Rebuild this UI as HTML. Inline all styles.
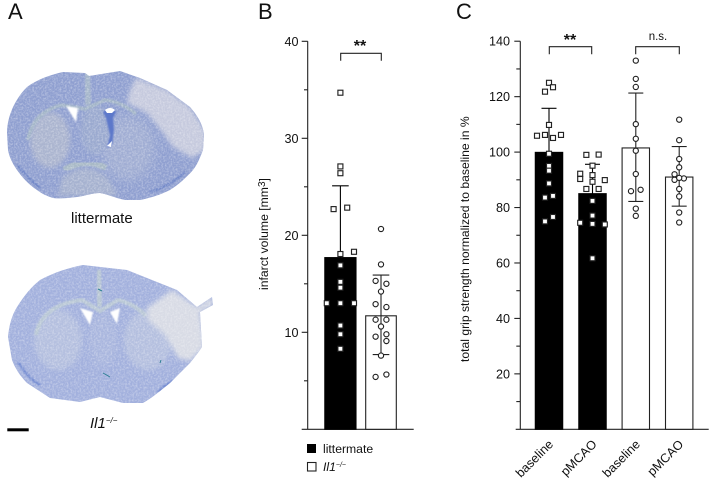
<!DOCTYPE html>
<html lang="en">
<head>
<meta charset="utf-8">
<title>Infarct volume and grip strength figure</title>
<style>
html,body{margin:0;padding:0;background:#fff;}
#figure{display:block;width:709px;height:478px;font-family:"Liberation Sans",Arial,sans-serif;}
</style>
</head>
<body>
<svg id="figure" xmlns="http://www.w3.org/2000/svg" width="709" height="478" viewBox="0 0 709 478">
<defs>
<filter id="soft" x="-15%" y="-15%" width="130%" height="130%"><feGaussianBlur stdDeviation="2.5"/></filter>
<filter id="softer" x="-30%" y="-30%" width="160%" height="160%"><feGaussianBlur stdDeviation="5"/></filter>
<filter id="edge" x="-5%" y="-5%" width="110%" height="110%"><feGaussianBlur stdDeviation="0.9"/></filter>
<filter id="noise" x="0" y="0" width="100%" height="100%">
<feTurbulence type="fractalNoise" baseFrequency="0.55" numOctaves="2" seed="4"/>
<feColorMatrix type="matrix" values="0 0 0 0 1  0 0 0 0 1  0 0 0 0 1  1.6 0 0 0 -0.62"/>
</filter>
<clipPath id="clip-a"><path d="M7,133 C7,118 14,100 27,87 C38,79 50,75 63,72 L85,73 L89,76 L120,71 L140,78 L167,90 L190,107 C198,116 203,125 204,135 L203,150 C200,158 197,165 193,170 C186,178 178,185 170,190 C160,195 150,198 140,200 L125,200 C115,198 107,194 100,193 C92,193 85,196 77,197 C68,198 60,199 53,198 C47,196 42,194 37,190 C28,184 22,177 17,170 C12,163 9,156 8,150Z"/></clipPath>
<clipPath id="clip-b"><path d="M8,337 C9,325 12,315 17,307 C24,296 31,287 40,280 C55,272 68,268 83,265 L127,270 L177,290 L197,307 L212,297 L213,305 L200,312 L202,347 C198,353 194,358 190,363 L170,383 C160,391 152,398 143,403 L123,403 L100,397 L80,402 L50,398 L27,383 C20,376 15,368 12,360Z"/></clipPath>
</defs>

<g>
<text x="8" y="19" font-size="22" fill="#111">A</text>
<g>
<g clip-path="url(#clip-a)">
<rect x="0" y="60" width="215" height="150" fill="#8f9fd0"/>
<ellipse cx="50" cy="140" rx="20" ry="28" fill="#aab4cf" filter="url(#soft)"/>
<ellipse cx="128" cy="148" rx="26" ry="32" fill="#a0add3" filter="url(#softer)"/>
<ellipse cx="95" cy="130" rx="14" ry="25" fill="#9aa9cf" filter="url(#soft)"/>
<path d="M62,178 Q85,158 108,178 L118,196 L58,196Z" fill="#a5b1cf" filter="url(#soft)"/>
<path d="M85,73 L90,73 L91,105 L85,105Z" fill="#a5b6cb" filter="url(#edge)"/>
<path d="M28,140 Q33,112 62,105 L85,109 L105,100 Q122,102 136,114" fill="none" stroke="#a3b5c8" stroke-width="3.5" filter="url(#edge)"/>
<path d="M64,170 Q85,157 106,168" fill="none" stroke="#a8b9c6" stroke-width="6" filter="url(#edge)"/>
<path d="M136,78 L167,90 L190,107 L200,122 L206,135 L205,150 L192,158 L173,147 L163,133 L147,113 L127,103 L130,90Z" fill="#c6cade" filter="url(#soft)"/>
<path d="M17,165 Q28,178 40,188" fill="none" stroke="#6c83c6" stroke-width="2.2" filter="url(#edge)"/>
<path d="M150,192 Q170,186 185,172" fill="none" stroke="#6c83c6" stroke-width="2.2" filter="url(#edge)"/>
<rect x="0" y="60" width="215" height="150" filter="url(#noise)" opacity="0.5"/>
</g>
<path d="M66,106 L78,108 L76,122Z" fill="#fff" filter="url(#edge)"/>
<path d="M103,112 Q110,106 116,112 L113,118 L114,130 L112,145 L107,148 L110,135 L106,118Z" fill="#5d78ca" filter="url(#edge)"/>
<path d="M105,110 Q110,106 115,110 L112,113 L107,113Z" fill="#fff"/>
<path d="M107,146 L112,141 L111,147Z" fill="#fff"/>
</g>
<text x="71" y="223" font-size="15" fill="#111">littermate</text>
<g>
<g clip-path="url(#clip-b)">
<rect x="0" y="255" width="220" height="155" fill="#a2b0dd"/>
<ellipse cx="58" cy="340" rx="24" ry="30" fill="#b4bfdf" filter="url(#soft)"/>
<ellipse cx="148" cy="340" rx="24" ry="30" fill="#b4bfdf" filter="url(#soft)"/>
<ellipse cx="103" cy="340" rx="14" ry="26" fill="#a9b6de" filter="url(#soft)"/>
<path d="M97,270 L101,270 L102,307 L97,307Z" fill="#b7c6d3" filter="url(#edge)"/>
<path d="M36,335 Q42,305 82,300 L100,311 L118,300 Q135,304 146,316" fill="none" stroke="#b9c8d6" stroke-width="4" filter="url(#edge)"/>
<path d="M74,365 L135,365" stroke="#bfccd7" stroke-width="5" filter="url(#edge)"/>
<path d="M147,308 L172,290 L197,307 L212,297 L213,305 L200,312 L204,347 L190,361 L178,358 L165,335 L148,320Z" fill="#d8dbe5" filter="url(#soft)"/>
<path d="M18,362 Q28,378 40,385" fill="none" stroke="#7189d0" stroke-width="2.4" filter="url(#edge)"/>
<path d="M158,392 Q168,382 180,378" fill="none" stroke="#7189d0" stroke-width="2.4" filter="url(#edge)"/>
<rect x="0" y="255" width="220" height="155" filter="url(#noise)" opacity="0.5"/>
</g>
<path d="M80,308 L93,312 L90,325Z" fill="#fff" filter="url(#edge)"/>
<path d="M110,312 L120,308 L117,324Z" fill="#fff" filter="url(#edge)"/>
<path d="M103,373 L110,377" stroke="#2d7f95" stroke-width="1"/>
<path d="M161,360 L160,363" stroke="#2d7f95" stroke-width="1"/>
<path d="M98,289 L102,291" stroke="#2d7f95" stroke-width="1"/>
</g>
<text x="90" y="428" font-size="15" font-style="italic" fill="#111">Il1<tspan font-size="8" dy="-5">−/−</tspan></text>
<rect x="7.3" y="428.3" width="21.4" height="3" fill="#000"/>
</g>
<g id="panel-b"></g>
<g id="panel-c"></g>
</svg>

<script>
// Panel B data
const infarctTicks = [10, 20, 30, 40];
const infarctMinorTicks = [5, 15, 25, 35];
const infarctGroups = ['littermate', 'Il1-/-'];
const infarctMeans = [17.7, 11.7];
const infarctErrTop = [25.1, 15.9];
const infarctErrBottom = [10.3, 7.7];
const infarctLittermate = [34.7, 27.1, 26.4, 22.7, 22.85, 18.3, 18.07, 16.9, 15.2, 14.6, 13, 13, 13, 10.7, 9.8, 8.3];
const infarctLittermateSlots = [0, 0, 0, -1, 1, 2, 0, 0, 0, 0, -2, 0, 2, 0, 0, 0];
const infarctKnockout = [20.65, 17, 15.3, 15, 14.2, 12.9, 12.6, 11.3, 11.3, 10.6, 9.55, 9.8, 9.1, 7.6, 5.4, 5.65];
const infarctKnockoutSlots = [0, 0, -1, 1, 0, -1, 1, -1, 1, 0, -1, 1, 1, 0, -1, 1];

// Panel C data
const gripTicks = [20, 40, 60, 80, 100, 120, 140];
const gripMinorTicks = [10, 30, 50, 70, 90, 110, 130];
const gripCategories = ['baseline', 'pMCAO', 'baseline', 'pMCAO'];
const gripMeans = [99.9, 85, 101.5, 91];
const gripErrTop = [115.8, 95.6, 121.3, 102];
const gripErrBottom = [84, 74.4, 82.2, 80.5];
const gripLitterBaseline = [125, 121.8, 123.4, 109.8, 105.9, 106.2, 105.1, 106.2, 99.4, 95, 93.3, 88.7, 83.6, 84.2, 75, 76.6];
const gripLitterBaselineSlots = [0, -1, 1, 0, -3, -1, 1, 3, 0, 0, 0, 0, -1, 1, -1, 1];
const gripLitterPmcao = [99, 99.1, 95.1, 92.2, 91.7, 90.3, 89.9, 89.3, 86.7, 86.7, 82.4, 77.1, 74.5, 74.1, 73.9, 61.7];
const gripLitterPmcaoSlots = [-1, 1, 0, -2, 0, -2, 2, 0, -1, 1, 0, 0, -2, 0, 2, 0];
const gripKoBaseline = [133, 126.4, 123.5, 110.1, 104.8, 100.5, 92.1, 85.9, 86.4, 79.6, 77];
const gripKoBaselineSlots = [0, 0, 0, 0, 0, 0, 0, -1, 1, 0, 0];
const gripKoPmcao = [111.7, 104.3, 97.5, 94.5, 92, 90, 90.5, 90.7, 86.7, 84, 78.2, 74.6];
const gripKoPmcaoSlots = [0, 0, 0, 0, -1, -1, 1, 0, 0, 0, 0, 0];

const SVG_NS = 'http://www.w3.org/2000/svg';
const INK = '#222222';

function make(parent, tag, attrs) {
  const el = document.createElementNS(SVG_NS, tag);
  for (const k in attrs) el.setAttribute(k, attrs[k]);
  parent.appendChild(el);
  return el;
}
function line(parent, x1, y1, x2, y2, color) {
  return make(parent, 'line', {x1: x1, y1: y1, x2: x2, y2: y2, stroke: color || INK, 'stroke-width': 1.1});
}
function tickLabel(parent, x, y, s, size) {
  const t = make(parent, 'text', {x: x, y: y, 'font-size': size, fill: '#111', 'text-anchor': 'end'});
  t.textContent = s;
  return t;
}
function yScaleB(v) { return 429.3 - v * 9.7; }
function yScaleC(v) { return 429.3 - v * 2.772; }
function xBandB(i) { return 340.4 + i * 40.6; }
function xBandC(i) { return [549, 592.5, 635.8, 679.2][i]; }

function drawBar(parent, cx, halfW, top, filled) {
  const r = make(parent, 'rect', {
    x: cx - halfW, y: top, width: halfW * 2, height: 429.3 - top,
    fill: filled ? '#000' : '#fff', stroke: filled ? '#000' : INK, 'stroke-width': 1.1
  });
  return r;
}
function drawError(parent, cx, yTop, yBottom, half, color) {
  const g = make(parent, 'g', {});
  line(g, cx, yTop, cx, yBottom, color);
  line(g, cx - half, yTop, cx + half, yTop, color);
  line(g, cx - half, yBottom, cx + half, yBottom, color);
  return g;
}
function drawSquare(parent, x, y) {
  return make(parent, 'rect', {x: x - 2.5, y: y - 2.5, width: 5, height: 5, fill: '#fff', stroke: '#222', 'stroke-width': 1.15});
}
function drawCircle(parent, x, y) {
  return make(parent, 'circle', {cx: x, cy: y, r: 2.6, fill: '#fff', stroke: '#222', 'stroke-width': 1.15});
}

/* ---------- Panel B ---------- */
const pb = document.getElementById('panel-b');
const pbLabel = make(pb, 'text', {x: 258, y: 19, 'font-size': 22, fill: '#111'});
pbLabel.textContent = 'B';



const pbYAxis = line(pb, 307.7, yScaleB(40), 307.7, 429.3);


const pbXAxis = line(pb, 301.7, 429.3, 413.7, 429.3);



infarctTicks.forEach(function (v) {
  const tk = line(pb, 301.7, yScaleB(v), 307.7, yScaleB(v));
  
  
  const lb = tickLabel(pb, 298.5, yScaleB(v) + 4.5, String(v), 12.6);
  
  
});
infarctMinorTicks.forEach(function (v) {
  const tk = line(pb, 304, yScaleB(v), 307.7, yScaleB(v));
  
  
});

const pbTitle = make(pb, 'text', {x: 0, y: 0, 'font-size': 12.2, fill: '#111', transform: 'translate(268,290) rotate(-90)'});


pbTitle.textContent = 'infarct volume [mm';
const pbSup = make(pbTitle, 'tspan', {dy: -3, 'font-size': 10});
pbSup.textContent = '3';
const pbEnd = make(pbTitle, 'tspan', {dy: 3});
pbEnd.textContent = ']';

const barB0 = drawBar(pb, xBandB(0), 15.6, yScaleB(infarctMeans[0]), true);


const barB1 = drawBar(pb, xBandB(1), 15.3, yScaleB(infarctMeans[1]), false);



const errB0 = drawError(pb, xBandB(0), yScaleB(infarctErrTop[0]), yScaleB(infarctErrBottom[0]), 8.3, '#000');


const errB1 = drawError(pb, xBandB(1), yScaleB(infarctErrTop[1]), yScaleB(infarctErrBottom[1]), 8.3);



infarctLittermate.forEach(function (v, i) {
  const m = drawSquare(pb, xBandB(0) + infarctLittermateSlots[i] * 6.8, yScaleB(v));
  
  
});
infarctKnockout.forEach(function (v, i) {
  const m = drawCircle(pb, xBandB(1) + infarctKnockoutSlots[i] * 5.4, yScaleB(v));
  
  
});

const brB = make(pb, 'path', {d: 'M340.7,60.7 V53.3 H381.3 V60.7', fill: 'none', stroke: INK, 'stroke-width': 1.1});


const sigB = make(pb, 'text', {x: 360, y: 51, 'font-size': 16, 'font-weight': 'bold', 'text-anchor': 'middle', fill: '#111'});
sigB.textContent = '**';



const legendSwatchA = make(pb, 'rect', {x: 307, y: 444, width: 9, height: 9, fill: '#000'});


const legendTextA = make(pb, 'text', {x: 323, y: 453, 'font-size': 12.2, fill: '#111'});
legendTextA.textContent = 'littermate';


const legendSwatchB = make(pb, 'rect', {x: 307.5, y: 462.5, width: 8.5, height: 8.5, fill: '#fff', stroke: INK, 'stroke-width': 1.1});


const legendTextB = make(pb, 'text', {x: 323, y: 471, 'font-size': 12.2, 'font-style': 'italic', fill: '#111'});
legendTextB.textContent = 'Il1';


const legendSup = make(legendTextB, 'tspan', {dy: -4, 'font-size': 7});
legendSup.textContent = '−/−';

/* ---------- Panel C ---------- */
const pc = document.getElementById('panel-c');
const pcLabel = make(pc, 'text', {x: 456, y: 19, 'font-size': 22, fill: '#111'});
pcLabel.textContent = 'C';



const pcYAxis = line(pc, 520.3, yScaleC(140), 520.3, 429.3);


const pcXAxis = line(pc, 515.7, 429.3, 708.7, 429.3);



gripTicks.forEach(function (v) {
  const tk = line(pc, 514.3, yScaleC(v), 520.3, yScaleC(v));
  
  
  const lb = tickLabel(pc, 510, yScaleC(v) + 4.5, String(v), 12.6);
  
  
});
gripMinorTicks.forEach(function (v) {
  const tk = line(pc, 516.3, yScaleC(v), 520.3, yScaleC(v));
  
  
});

const pcTitle = make(pc, 'text', {x: 0, y: 0, 'font-size': 12.15, fill: '#111', transform: 'translate(469,362) rotate(-90)'});
pcTitle.textContent = 'total grip strength normalized to baseline in %';



gripCategories.forEach(function (c, i) {
  const b = drawBar(pc, xBandC(i), 13.7, yScaleC(gripMeans[i]), i < 2);
  
  
  const e = drawError(pc, xBandC(i), yScaleC(gripErrTop[i]), yScaleC(gripErrBottom[i]), 7.5, i < 2 ? '#000' : INK);
  
  
  const cx = xBandC(i) + 5, cy = 445;
  const t = make(pc, 'text', {x: cx, y: cy, 'font-size': 12.6, fill: '#111', 'text-anchor': 'end', transform: 'rotate(-45 ' + cx + ' ' + cy + ')'});
  t.textContent = c;
  
  
});

gripLitterBaseline.forEach(function (v, i) {
  const m = drawSquare(pc, xBandC(0) + gripLitterBaselineSlots[i] * 4, yScaleC(v));
  
  
});
gripLitterPmcao.forEach(function (v, i) {
  const m = drawSquare(pc, xBandC(1) + gripLitterPmcaoSlots[i] * 6.15, yScaleC(v));
  
  
});
gripKoBaseline.forEach(function (v, i) {
  const m = drawCircle(pc, xBandC(2) + gripKoBaselineSlots[i] * 4.8, yScaleC(v));
  
  
});
gripKoPmcao.forEach(function (v, i) {
  const m = drawCircle(pc, xBandC(3) + gripKoPmcaoSlots[i] * 4.67, yScaleC(v));
  
  
});

const brC1 = make(pc, 'path', {d: 'M549.3,54.3 V46.7 H591.7 V54.3', fill: 'none', stroke: INK, 'stroke-width': 1.1});


const brC2 = make(pc, 'path', {d: 'M635.7,54.3 V46.7 H679.3 V54.3', fill: 'none', stroke: INK, 'stroke-width': 1.1});


const sigC1 = make(pc, 'text', {x: 570, y: 45, 'font-size': 16, 'font-weight': 'bold', 'text-anchor': 'middle', fill: '#111'});
sigC1.textContent = '**';


const sigC2 = make(pc, 'text', {x: 658, y: 40, 'font-size': 11.5, 'text-anchor': 'middle', fill: '#111'});
sigC2.textContent = 'n.s.';


</script>
</body>
</html>
